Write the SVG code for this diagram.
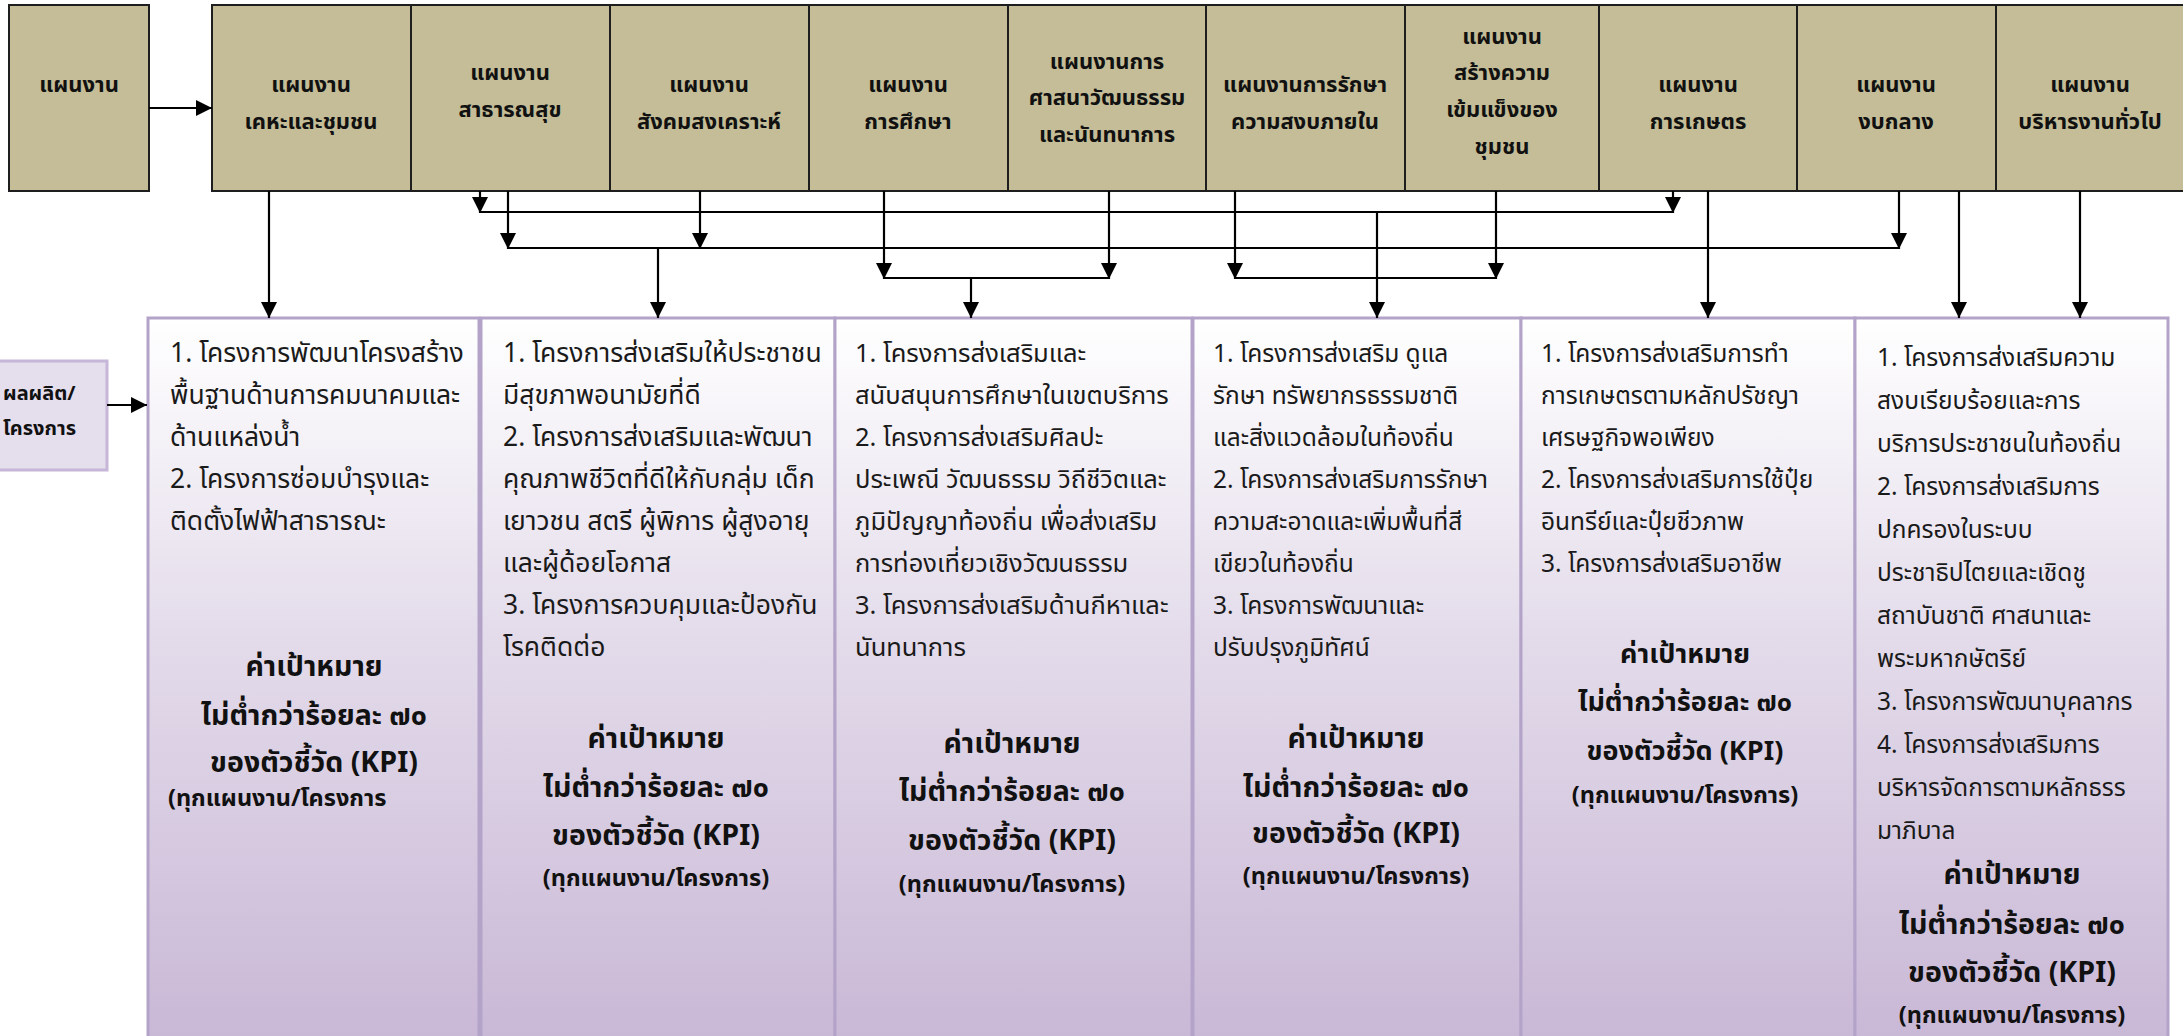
<svg xmlns="http://www.w3.org/2000/svg" width="2183" height="1036" viewBox="0 0 2183 1036">
<defs>
<linearGradient id="pg" gradientUnits="userSpaceOnUse" x1="0" y1="318" x2="0" y2="1036">
<stop offset="0" stop-color="#ffffff"/>
<stop offset="0.45" stop-color="#e3dbea"/>
<stop offset="1" stop-color="#c9b8d6"/>
</linearGradient>
<marker id="ah" markerUnits="userSpaceOnUse" markerWidth="16" markerHeight="16" viewBox="0 0 16 16" refX="16" refY="8" orient="auto">
<path d="M0,0 L16,8 L0,16 z" fill="#000"/>
</marker>
<style>
.cell{fill:#c4bd97;stroke:#1e1e1e;stroke-width:2}
.ct{font-family:"Noto Sans Thai","Noto Sans Thai UI","Leelawadee UI",Tahoma,"DejaVu Sans",sans-serif;font-size:22px;font-weight:bold;fill:#111;text-anchor:middle}
.pb{fill:url(#pg);stroke:#b4a3c9;stroke-width:3}
.bt{font-family:"Noto Sans Thai","Noto Sans Thai UI","Leelawadee UI",Tahoma,"DejaVu Sans",sans-serif;font-size:26.5px;fill:#1a1a1a}
.bt3{font-family:"Noto Sans Thai","Noto Sans Thai UI","Leelawadee UI",Tahoma,"DejaVu Sans",sans-serif;font-size:25.5px;fill:#1a1a1a}
.bt2{font-family:"Noto Sans Thai","Noto Sans Thai UI","Leelawadee UI",Tahoma,"DejaVu Sans",sans-serif;font-size:24.5px;fill:#1a1a1a}
.kt{font-family:"Noto Sans Thai","Noto Sans Thai UI","Leelawadee UI",Tahoma,"DejaVu Sans",sans-serif;font-size:28.5px;font-weight:bold;fill:#111;text-anchor:middle}
.kp{font-family:"Noto Sans Thai","Noto Sans Thai UI","Leelawadee UI",Tahoma,"DejaVu Sans",sans-serif;font-size:23.5px;font-weight:bold;fill:#111}
.cn{fill:none;stroke:#000;stroke-width:2.2}
.lb{fill:#e5deed;stroke:#c6b6d8;stroke-width:3}
</style>
</defs>

<g id="node-plan">
<rect class="cell" x="9" y="5" width="140" height="186"/>
<text class="ct" x="79" y="92">แผนงาน</text>
</g>

<g id="node-housing">
<rect class="cell" x="212" y="5" width="199" height="186"/>
<text class="ct" x="311" y="92">แผนงาน</text>
<text class="ct" x="311" y="129">เคหะและชุมชน</text>
</g>
<g id="node-health">
<rect class="cell" x="411" y="5" width="199" height="186"/>
<text class="ct" x="510" y="80">แผนงาน</text>
<text class="ct" x="510" y="117">สาธารณสุข</text>
</g>
<g id="node-welfare">
<rect class="cell" x="610" y="5" width="199" height="186"/>
<text class="ct" x="709" y="92">แผนงาน</text>
<text class="ct" x="709" y="129">สังคมสงเคราะห์</text>
</g>
<g id="node-education">
<rect class="cell" x="809" y="5" width="199" height="186"/>
<text class="ct" x="908" y="92">แผนงาน</text>
<text class="ct" x="908" y="129">การศึกษา</text>
</g>
<g id="node-religion">
<rect class="cell" x="1008" y="5" width="198" height="186"/>
<text class="ct" x="1107" y="69">แผนงานการ</text>
<text class="ct" x="1107" y="105">ศาสนาวัฒนธรรม</text>
<text class="ct" x="1107" y="142">และนันทนาการ</text>
</g>
<g id="node-peace">
<rect class="cell" x="1206" y="5" width="199" height="186"/>
<text class="ct" x="1305" y="92">แผนงานการรักษา</text>
<text class="ct" x="1305" y="129">ความสงบภายใน</text>
</g>
<g id="node-community">
<rect class="cell" x="1405" y="5" width="194" height="186"/>
<text class="ct" x="1502" y="44">แผนงาน</text>
<text class="ct" x="1502" y="80">สร้างความ</text>
<text class="ct" x="1502" y="117">เข้มแข็งของ</text>
<text class="ct" x="1502" y="154">ชุมชน</text>
</g>
<g id="node-agri">
<rect class="cell" x="1599" y="5" width="198" height="186"/>
<text class="ct" x="1698" y="92">แผนงาน</text>
<text class="ct" x="1698" y="129">การเกษตร</text>
</g>
<g id="node-central">
<rect class="cell" x="1797" y="5" width="199" height="186"/>
<text class="ct" x="1896" y="92">แผนงาน</text>
<text class="ct" x="1896" y="129">งบกลาง</text>
</g>
<g id="node-admin">
<rect class="cell" x="1996" y="5" width="200" height="186"/>
<text class="ct" x="2090" y="92">แผนงาน</text>
<text class="ct" x="2090" y="129">บริหารงานทั่วไป</text>
</g>

<g id="node-output">
<rect class="lb" x="-6" y="361" width="113" height="109"/>
<text class="kp" x="3" y="400" style="font-size:20px">ผลผลิต/</text>
<text class="kp" x="3" y="435" style="font-size:20px">โครงการ</text>
</g>

<g id="node-box1">
<rect class="pb" x="148" y="318" width="331" height="740"/>
<text class="bt">
<tspan x="170" y="362">1. โครงการพัฒนาโครงสร้าง</tspan>
<tspan x="170" y="404">พื้นฐานด้านการคมนาคมและ</tspan>
<tspan x="170" y="446">ด้านแหล่งน้ำ</tspan>
<tspan x="170" y="488">2. โครงการซ่อมบำรุงและ</tspan>
<tspan x="170" y="530">ติดตั้งไฟฟ้าสาธารณะ</tspan>
</text>
<text class="kt" x="314" y="676">ค่าเป้าหมาย</text>
<text class="kt" x="314" y="725">ไม่ต่ำกว่าร้อยละ ๗๐</text>
<text class="kt" x="314" y="772">ของตัวชี้วัด (KPI)</text>
<text class="kp" x="168" y="806">(ทุกแผนงาน/โครงการ</text>
</g>

<g id="node-box2">
<rect class="pb" x="481" y="318" width="354" height="740"/>
<text class="bt">
<tspan x="503" y="362">1. โครงการส่งเสริมให้ประชาชน</tspan>
<tspan x="503" y="404">มีสุขภาพอนามัยที่ดี</tspan>
<tspan x="503" y="446">2. โครงการส่งเสริมและพัฒนา</tspan>
<tspan x="503" y="488">คุณภาพชีวิตที่ดีให้กับกลุ่ม เด็ก</tspan>
<tspan x="503" y="530">เยาวชน สตรี ผู้พิการ ผู้สูงอายุ</tspan>
<tspan x="503" y="572">และผู้ด้อยโอกาส</tspan>
<tspan x="503" y="614">3. โครงการควบคุมและป้องกัน</tspan>
<tspan x="503" y="656">โรคติดต่อ</tspan>
</text>
<text class="kt" x="656" y="748">ค่าเป้าหมาย</text>
<text class="kt" x="656" y="797">ไม่ต่ำกว่าร้อยละ ๗๐</text>
<text class="kt" x="656" y="845">ของตัวชี้วัด (KPI)</text>
<text class="kp" x="656" y="886" text-anchor="middle">(ทุกแผนงาน/โครงการ)</text>
</g>

<g id="node-box3">
<rect class="pb" x="835" y="318" width="357" height="740"/>
<text class="bt3">
<tspan x="855" y="362">1. โครงการส่งเสริมและ</tspan>
<tspan x="855" y="404">สนับสนุนการศึกษาในเขตบริการ</tspan>
<tspan x="855" y="446">2. โครงการส่งเสริมศิลปะ</tspan>
<tspan x="855" y="488">ประเพณี วัฒนธรรม วิถีชีวิตและ</tspan>
<tspan x="855" y="530">ภูมิปัญญาท้องถิ่น เพื่อส่งเสริม</tspan>
<tspan x="855" y="572">การท่องเที่ยวเชิงวัฒนธรรม</tspan>
<tspan x="855" y="614">3. โครงการส่งเสริมด้านกีหาและ</tspan>
<tspan x="855" y="656">นันทนาการ</tspan>
</text>
<text class="kt" x="1012" y="753">ค่าเป้าหมาย</text>
<text class="kt" x="1012" y="801">ไม่ต่ำกว่าร้อยละ ๗๐</text>
<text class="kt" x="1012" y="850">ของตัวชี้วัด (KPI)</text>
<text class="kp" x="1012" y="892" text-anchor="middle">(ทุกแผนงาน/โครงการ)</text>
</g>

<g id="node-box4">
<rect class="pb" x="1193" y="318" width="328" height="740"/>
<text class="bt2">
<tspan x="1213" y="362">1. โครงการส่งเสริม ดูแล</tspan>
<tspan x="1213" y="404">รักษา ทรัพยากรธรรมชาติ</tspan>
<tspan x="1213" y="446">และสิ่งแวดล้อมในท้องถิ่น</tspan>
<tspan x="1213" y="488">2. โครงการส่งเสริมการรักษา</tspan>
<tspan x="1213" y="530">ความสะอาดและเพิ่มพื้นที่สี</tspan>
<tspan x="1213" y="572">เขียวในท้องถิ่น</tspan>
<tspan x="1213" y="614">3. โครงการพัฒนาและ</tspan>
<tspan x="1213" y="656">ปรับปรุงภูมิทัศน์</tspan>
</text>
<text class="kt" x="1356" y="748">ค่าเป้าหมาย</text>
<text class="kt" x="1356" y="797">ไม่ต่ำกว่าร้อยละ ๗๐</text>
<text class="kt" x="1356" y="843">ของตัวชี้วัด (KPI)</text>
<text class="kp" x="1356" y="884" text-anchor="middle">(ทุกแผนงาน/โครงการ)</text>
</g>

<g id="node-box5">
<rect class="pb" x="1521" y="318" width="334" height="740"/>
<text class="bt2">
<tspan x="1541" y="362">1. โครงการส่งเสริมการทำ</tspan>
<tspan x="1541" y="404">การเกษตรตามหลักปรัชญา</tspan>
<tspan x="1541" y="446">เศรษฐกิจพอเพียง</tspan>
<tspan x="1541" y="488">2. โครงการส่งเสริมการใช้ปุ๋ย</tspan>
<tspan x="1541" y="530">อินทรีย์และปุ๋ยชีวภาพ</tspan>
<tspan x="1541" y="572">3. โครงการส่งเสริมอาชีพ</tspan>
</text>
<text class="kt" x="1685" y="663" style="font-size:27px">ค่าเป้าหมาย</text>
<text class="kt" x="1685" y="711" style="font-size:27px">ไม่ต่ำกว่าร้อยละ ๗๐</text>
<text class="kt" x="1685" y="760" style="font-size:27px">ของตัวชี้วัด (KPI)</text>
<text class="kp" x="1685" y="803" text-anchor="middle">(ทุกแผนงาน/โครงการ)</text>
</g>

<g id="node-box6">
<rect class="pb" x="1855" y="318" width="313" height="740"/>
<text class="bt2">
<tspan x="1877" y="366">1. โครงการส่งเสริมความ</tspan>
<tspan x="1877" y="409">สงบเรียบร้อยและการ</tspan>
<tspan x="1877" y="452">บริการประชาชนในท้องถิ่น</tspan>
<tspan x="1877" y="495">2. โครงการส่งเสริมการ</tspan>
<tspan x="1877" y="538">ปกครองในระบบ</tspan>
<tspan x="1877" y="581">ประชาธิปไตยและเชิดชู</tspan>
<tspan x="1877" y="624">สถาบันชาติ ศาสนาและ</tspan>
<tspan x="1877" y="667">พระมหากษัตริย์</tspan>
<tspan x="1877" y="710">3. โครงการพัฒนาบุคลากร</tspan>
<tspan x="1877" y="753">4. โครงการส่งเสริมการ</tspan>
<tspan x="1877" y="796">บริหารจัดการตามหลักธรร</tspan>
<tspan x="1877" y="839">มาภิบาล</tspan>
</text>
<text class="kt" x="2012" y="884">ค่าเป้าหมาย</text>
<text class="kt" x="2012" y="934">ไม่ต่ำกว่าร้อยละ ๗๐</text>
<text class="kt" x="2012" y="982">ของตัวชี้วัด (KPI)</text>
<text class="kp" x="2012" y="1023" text-anchor="middle">(ทุกแผนงาน/โครงการ)</text>
</g>

<g id="connectors">
<line class="cn" x1="149" y1="108" x2="212" y2="108" marker-end="url(#ah)"/>
<line class="cn" x1="107" y1="405" x2="147" y2="405" marker-end="url(#ah)"/>
<line class="cn" x1="269" y1="191" x2="269" y2="318" marker-end="url(#ah)"/>
<line class="cn" x1="480" y1="191" x2="480" y2="213" marker-end="url(#ah)"/>
<line class="cn" x1="1673" y1="191" x2="1673" y2="213" marker-end="url(#ah)"/>
<line class="cn" x1="479" y1="212" x2="1674" y2="212"/>
<line class="cn" x1="1377" y1="212" x2="1377" y2="318" marker-end="url(#ah)"/>
<line class="cn" x1="508" y1="191" x2="508" y2="249" marker-end="url(#ah)"/>
<line class="cn" x1="700" y1="191" x2="700" y2="249" marker-end="url(#ah)"/>
<line class="cn" x1="1899" y1="191" x2="1899" y2="249" marker-end="url(#ah)"/>
<line class="cn" x1="507" y1="248" x2="1900" y2="248"/>
<line class="cn" x1="658" y1="248" x2="658" y2="318" marker-end="url(#ah)"/>
<line class="cn" x1="884" y1="191" x2="884" y2="279" marker-end="url(#ah)"/>
<line class="cn" x1="1109" y1="191" x2="1109" y2="279" marker-end="url(#ah)"/>
<line class="cn" x1="883" y1="278" x2="1110" y2="278"/>
<line class="cn" x1="971" y1="278" x2="971" y2="318" marker-end="url(#ah)"/>
<line class="cn" x1="1235" y1="191" x2="1235" y2="279" marker-end="url(#ah)"/>
<line class="cn" x1="1496" y1="191" x2="1496" y2="279" marker-end="url(#ah)"/>
<line class="cn" x1="1234" y1="278" x2="1497" y2="278"/>
<line class="cn" x1="1708" y1="191" x2="1708" y2="318" marker-end="url(#ah)"/>
<line class="cn" x1="1959" y1="191" x2="1959" y2="318" marker-end="url(#ah)"/>
<line class="cn" x1="2080" y1="191" x2="2080" y2="318" marker-end="url(#ah)"/>
</g>
</svg>
